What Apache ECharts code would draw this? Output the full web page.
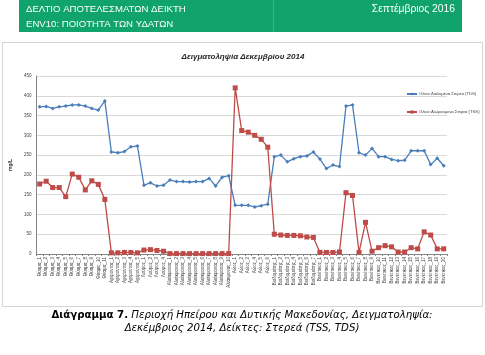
<!DOCTYPE html>
<html><head><meta charset="utf-8">
<script src="https://cdn.jsdelivr.net/npm/echarts@6/dist/echarts.min.js"></script>
<style>html,body{margin:0;padding:0;background:#fff;}#c{width:485px;height:355px;}</style>
</head><body><div id="c"></div>
<script>
const groupNames = ['Θύαμις','Αχέροντας','Λούρος','Αλιάκμονας','Αώος','Βοϊδομάτης','Βενέτικος'];
const groupSizes = [11,5,4,10,6,7,20];
const categories = [];
groupNames.forEach((g,i)=>{for(let k=1;k<=groupSizes[i];k++)categories.push(g+'_'+k);});
const tdsValues = [372,373,368,372,374,377,377,374,368,364,387,
  258,256,259,271,273,
  174,180,172,174,
  187,183,183,182,183,183,191,172,194,198,
  123,123,123,119,122,126,
  246,250,233,241,246,248,258,
  240,216,225,221,374,377,256,250,267,246,246,239,236,237,261,261,261,226,242,223];
const tssValues = [177,184,168,168,145,202,194,162,185,176,138,
  3,3,4,4,3,
  10,11,9,7,
  1,1,1,1,1,1,1,1,1,1,
  420,312,308,300,290,270,
  50,48,47,47,46,43,42,
  4,4,4,5,155,148,4,80,7,16,21,18,5,5,16,13,56,48,13,13];
const yTicks = {min:0,max:450,interval:50};
const seriesNames = ['Ολικά Διαλυμένα Στερεά (TDS)','Ολικά Αιωρούμενα Στερεά (TSS)'];
const chartTitle = 'Δειγματοληψία Δεκεμβρίου 2014';
const headerLeft1 = 'ΔΕΛΤΙΟ ΑΠΟΤΕΛΕΣΜΑΤΩΝ ΔΕΙΚΤΗ';
const headerLeft2 = 'ENV10: ΠΟΙΟΤΗΤΑ ΤΩΝ ΥΔΑΤΩΝ';
const headerRight = 'Σεπτέμβριος 2016';
const captionBold = 'Διάγραμμα 7.';
const captionLine1 = ' Περιοχή Ηπείρου και Δυτικής Μακεδονίας, Δειγματοληψία:';
const captionLine2 = 'Δεκέμβριος 2014, Δείκτες: Στερεά (TSS, TDS)';

const chart = echarts.init(document.getElementById('c'));
const FONT = 'Liberation Sans, Arial, sans-serif';
const CFONT = 'DejaVu Sans, Verdana, sans-serif';
chart.setOption({
  animation:false,
  textStyle:{fontFamily:FONT},
  graphic:[
    {type:'rect',shape:{x:2.5,y:42.5,width:480,height:264},style:{fill:'#fff',stroke:'#d4d4d4',lineWidth:1},z:-10},
    {type:'rect',shape:{x:19,y:0,width:443,height:32},style:{fill:'#10a36c'},z:-5},
    {type:'rect',shape:{x:273,y:0,width:1,height:32},style:{fill:'#3db487'},z:-4},
    {type:'text',x:26,y:9,style:{text:headerLeft1,fill:'#fff',font:'9.6px '+FONT,textVerticalAlign:'middle'}},
    {type:'text',x:26,y:24,style:{text:headerLeft2,fill:'#fff',font:'9.6px '+FONT,textVerticalAlign:'middle'}},
    {type:'text',x:455,y:9,style:{text:headerRight,fill:'#fff',font:'10.3px '+FONT,textAlign:'right',textVerticalAlign:'middle'}},
    {type:'text',x:243,y:57,style:{text:chartTitle,fill:'#262626',font:'italic bold 8px '+FONT,textAlign:'center',textVerticalAlign:'middle'}},
    {type:'text',x:242,y:321.5,style:{
      text:'{b|'+captionBold+'}{i|'+captionLine1+'}\n{i|'+captionLine2+'}',
      textAlign:'center',textVerticalAlign:'middle',
      rich:{b:{font:'bold 10.2px '+CFONT,fill:'#000',lineHeight:13},i:{font:'italic 10.2px '+CFONT,fill:'#000',lineHeight:13}}
    }}
  ],
  legend:{
    orient:'vertical',left:401,top:87,itemGap:14,itemWidth:10,itemHeight:4,
    textStyle:{fontSize:4.2,color:'#404040',fontFamily:FONT,padding:[0,0,0,-3]},
    data:seriesNames
  },
  grid:{left:33,right:38,top:76,bottom:101},
  xAxis:{
    type:'category',data:categories,boundaryGap:true,
    axisLine:{lineStyle:{color:'#868686',width:1}},
    axisTick:{show:true,length:2,lineStyle:{color:'#868686'}},
    axisLabel:{interval:0,rotate:90,fontSize:4.5,color:'#404040',margin:3}
  },
  yAxis:{
    type:'value',min:yTicks.min,max:yTicks.max,interval:yTicks.interval,
    name:'mg/L',nameLocation:'middle',nameGap:15,nameRotate:90,
    nameTextStyle:{fontSize:5,fontWeight:'bold',color:'#404040'},
    axisLine:{show:true,lineStyle:{color:'#868686'}},
    axisTick:{show:false},
    axisLabel:{fontSize:4.5,color:'#404040',margin:5},
    splitLine:{lineStyle:{color:'#d9d9d9',width:1}}
  },
  series:[
    {name:seriesNames[0],type:'line',data:tdsValues,symbol:'diamond',symbolSize:4,
     lineStyle:{color:'#4a7ebb',width:1.3},itemStyle:{color:'#4a7ebb'}},
    {name:seriesNames[1],type:'line',data:tssValues,symbol:'rect',symbolSize:5,
     lineStyle:{color:'#be4b48',width:1.3},itemStyle:{color:'#be4b48'}}
  ]
});
</script></body></html>
